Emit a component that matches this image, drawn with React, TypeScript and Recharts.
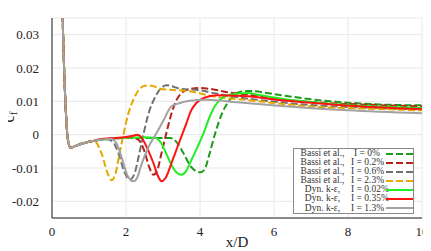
import { ComposedChart, Line, XAxis, YAxis, CartesianGrid } from "recharts";

// x/D positions and c_f values
const entryRegion: number[][] = [
  [0.27, 0.045], [0.3, 0.03], [0.35, 0.013], [0.4, 0.002], [0.45, -0.0027],
  [0.5, -0.0039], [0.56, -0.0037], [0.7, -0.0031], [0.9, -0.0024], [1.1, -0.0019],
];

const bassi0 = [
  [1.3, -0.0015], [1.6, -0.0012], [2.0, -0.001], [2.6, -0.001], [3.2, -0.001],
  [3.35, -0.002], [3.55, -0.0055], [3.75, -0.0095], [4.0, -0.0113], [4.12, -0.0105],
  [4.25, -0.006], [4.4, 0], [4.6, 0.0065], [4.81, 0.0105], [5.05, 0.0127],
  [5.3, 0.0131], [6.2, 0.0118], [7.1, 0.0105], [8.0, 0.0096], [9.0, 0.009], [10, 0.0088],
];
const bassi02 = [
  [1.3, -0.0015], [1.6, -0.0012], [2.0, -0.001], [2.2, -0.001], [2.35, -0.0017],
  [2.5, -0.005], [2.62, -0.0095], [2.74, -0.012], [2.85, -0.0105], [2.95, -0.006],
  [3.08, 0], [3.22, 0.006], [3.37, 0.0105], [3.5, 0.0125], [3.73, 0.0137],
  [4.0, 0.014], [4.4, 0.0135], [4.81, 0.0126], [5.3, 0.012], [6.07, 0.0107],
  [7.0, 0.0098], [8.5, 0.009], [10, 0.0085],
];
const bassi06 = [
  [1.3, -0.0015], [1.5, -0.0014], [1.65, -0.0022], [1.8, -0.0057], [1.95, -0.011],
  [2.1, -0.0135], [2.22, -0.012], [2.35, -0.0062], [2.47, 0], [2.6, 0.006],
  [2.8, 0.0115], [2.95, 0.014], [3.1, 0.0148], [3.46, 0.0138], [4.0, 0.0133],
  [4.4, 0.0124], [5.3, 0.0108], [6.2, 0.0097], [7.1, 0.0088], [8.5, 0.0081], [10, 0.0076],
];
const bassi23 = [
  [1.2, -0.0024], [1.35, -0.006], [1.5, -0.0115], [1.61, -0.0137], [1.72, -0.0115],
  [1.82, -0.006], [1.93, 0], [2.05, 0.0058], [2.2, 0.0105], [2.35, 0.0135],
  [2.51, 0.0147], [2.69, 0.0147], [2.92, 0.0138], [3.19, 0.0135], [3.73, 0.013],
  [4.35, 0.0115], [5.26, 0.0104], [6.07, 0.0094], [7.1, 0.0084], [8.5, 0.0078], [10, 0.0073],
];
const dyn002 = [
  [1.3, -0.0015], [1.6, -0.0012], [2.0, -0.0009], [2.5, -0.0008], [2.8, -0.001],
  [2.95, -0.0025], [3.1, -0.006], [3.3, -0.0105], [3.5, -0.012], [3.62, -0.011],
  [3.73, -0.0085], [3.9, -0.0045], [4.08, 0], [4.25, 0.005], [4.4, 0.0085],
  [4.54, 0.0105], [4.8, 0.012], [5.3, 0.0125], [5.6, 0.0119], [6.3, 0.0106],
  [7.2, 0.0096], [8.0, 0.0089], [10, 0.008],
];
const dyn035 = [
  [1.3, -0.0014], [1.6, -0.0011], [2.0, -0.0007], [2.2, -0.0003], [2.3, 0],
  [2.4, -0.0006], [2.55, -0.0035], [2.74, -0.0085], [2.88, -0.0128], [2.96, -0.014],
  [3.08, -0.0128], [3.23, -0.0085], [3.38, -0.004], [3.5, -0.0005], [3.62, 0.003],
  [3.75, 0.007], [3.9, 0.0095], [4.1, 0.011], [4.45, 0.0118], [5.0, 0.0117],
  [5.3, 0.0115], [6.07, 0.0105], [7.1, 0.0095], [8.5, 0.0084], [10, 0.0077],
];
const dyn13 = [
  [1.3, -0.0015], [1.6, -0.0013], [1.75, -0.0027], [1.9, -0.0075], [2.05, -0.0125],
  [2.2, -0.014], [2.3, -0.013], [2.4, -0.0095], [2.52, -0.006], [2.65, -0.0028],
  [2.8, 0], [3.0, 0.004], [3.23, 0.0085], [3.46, 0.0095], [3.73, 0.0102],
  [4.2, 0.0105], [5.0, 0.0097], [6.2, 0.0086], [8.0, 0.0073], [10, 0.0064],
];

const xTicks = [0, 2, 4, 6, 8, 10];
const yTicks = [-0.02, -0.01, 0, 0.01, 0.02, 0.03];

const series = [
  { name: "Bassi et al.,", inten: "I = 0%", pts: bassi0, color: "#1c9c1c", dashed: true },
  { name: "Bassi et al.,", inten: "I = 0.2%", pts: bassi02, color: "#b4231a", dashed: true },
  { name: "Bassi et al.,", inten: "I = 0.6%", pts: bassi06, color: "#707070", dashed: true },
  { name: "Bassi et al.,", inten: "I = 2.3%", pts: bassi23, color: "#e6a800", dashed: true },
  { name: "Dyn. k-ε,", inten: "I = 0.02%", pts: dyn002, color: "#22ee22", dashed: false },
  { name: "Dyn. k-ε,", inten: "I = 0.35%", pts: dyn035, color: "#ff1212", dashed: false },
  { name: "Dyn. k-ε,", inten: "I = 1.3%", pts: dyn13, color: "#a2a2a2", dashed: false },
];

const FONT = "Liberation Serif";

const toRows = (pts: number[][]) => [...entryRegion, ...pts].map(([x, y]) => ({ x, y }));

const XTick = ({ x, y, payload }: any) => (
  <text x={x} y={y} dy={9} textAnchor="middle" fontFamily={FONT} fontSize={13} fill="#222">
    {payload.value}
  </text>
);

const YTick = ({ x, y, payload }: any) => (
  <text x={x} y={y} dy={4.5} textAnchor="end" fontFamily={FONT} fontSize={13} fill="#222">
    {payload.value}
  </text>
);

const XLabel = () => (
  <text x={229} y={239} textAnchor="middle" fontFamily={FONT} fontSize={15} fill="#222">
    x/D
  </text>
);

export default function App() {
  const xDomain: [number, number] = [0, 10];
  const yDomain: [number, number] = [-0.025, 0.035];
  return (
    <div style={{ position: "relative", width: 423, height: 243 }}>
      <ComposedChart width={423} height={243} margin={{ top: 10, right: 9, left: 0, bottom: 0 }}>
        <CartesianGrid stroke="#e8e8e8" />
        <XAxis
          type="number" dataKey="x" domain={xDomain} ticks={xTicks} allowDataOverflow
          height={33} tickLine={false} tickMargin={3} stroke="#222"
          tick={<XTick />}
          label={<XLabel />}
        />
        <XAxis xAxisId="top" type="number" orientation="top" mirror domain={xDomain} ticks={xTicks} height={0} tick={false} tickSize={4} stroke="#222" />
        <XAxis xAxisId="bm" type="number" orientation="bottom" mirror domain={xDomain} ticks={xTicks} height={0} tick={false} tickSize={4} stroke="#222" />
        <YAxis
          type="number" domain={yDomain} ticks={yTicks} allowDataOverflow
          width={44} tickLine={false} tickMargin={7} stroke="#222"
          tick={<YTick />}
        />
        <YAxis yAxisId="right" type="number" orientation="right" mirror domain={yDomain} ticks={yTicks} width={0} tick={false} tickSize={4} stroke="#222" />
        <YAxis yAxisId="lm" type="number" orientation="left" mirror domain={yDomain} ticks={yTicks} width={0} tick={false} tickSize={4} stroke="#222" />
        {series.map((s, i) => (
          <Line
            key={i}
            data={toRows(s.pts)}
            dataKey="y"
            type="monotone"
            stroke={s.color}
            strokeWidth={2}
            strokeDasharray={s.dashed ? "7 3" : undefined}
            dot={false}
            activeDot={false}
            isAnimationActive={false}
          />
        ))}
      </ComposedChart>
      <div
        style={{
          position: "absolute", left: 1, top: 109, transform: "translate(-50%, -50%) rotate(-90deg)",
          fontFamily: FONT, fontSize: 16, color: "#222", whiteSpace: "nowrap", lineHeight: "16px",
        }}
      >
        c<span style={{ fontSize: 11, position: "relative", top: 3 }}>f</span>
      </div>
      <div
        style={{
          position: "absolute", left: 285, top: 140, width: 121, height: 66,
          border: "1px solid #8a8a8a", background: "#fff", boxSizing: "border-box",
          fontFamily: FONT, fontSize: 9.5, color: "#333", overflow: "hidden",
        }}
      >
        {series.map((s, i) => (
          <div key={i} style={{ display: "flex", alignItems: "center", height: 9.1, lineHeight: "9.1px" }}>
            <span style={{ width: 57, textAlign: "center", whiteSpace: "nowrap" }}>{s.name}</span>
            <span style={{ width: 29, textAlign: "right", whiteSpace: "nowrap" }}>{s.inten}</span>
            <svg width={27} height={6} style={{ marginLeft: 6, display: "block" }}>
              <line x1={0} y1={3} x2={27} y2={3} stroke={s.color} strokeWidth={2} strokeDasharray={s.dashed ? "7 3" : undefined} />
            </svg>
          </div>
        ))}
      </div>
    </div>
  );
}
